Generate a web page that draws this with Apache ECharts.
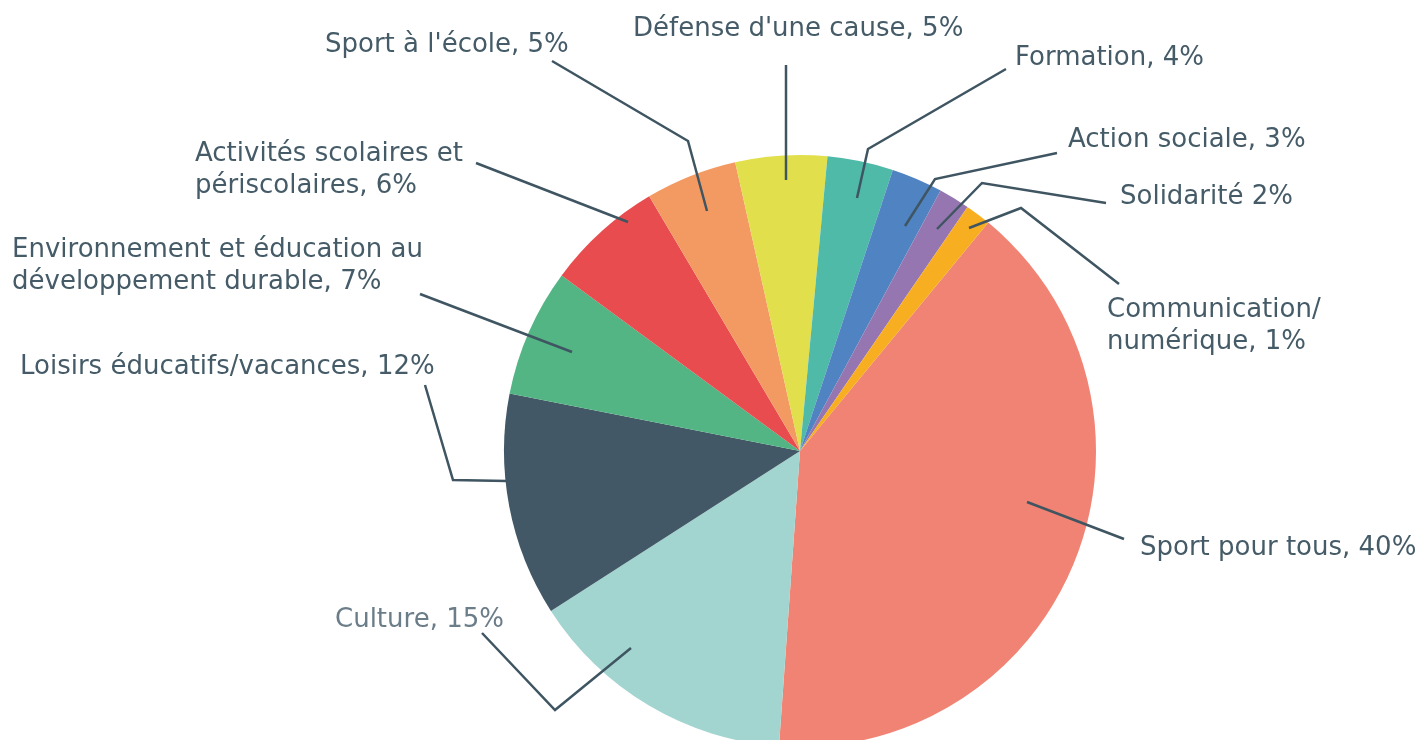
<!DOCTYPE html>
<html>
<head>
<meta charset="utf-8">
<script src="https://cdn.jsdelivr.net/npm/echarts@6/dist/echarts.min.js"></script>
<style>
html,body{margin:0;padding:0;background:#fff;}
#chart{width:1421px;height:740px;}
</style>
</head>
<body>
<div id="chart"></div>
<script>
// ---- data ----
var categories = [
  "Sport pour tous", "Culture", "Loisirs éducatifs/vacances",
  "Environnement et éducation au développement durable",
  "Activités scolaires et périscolaires", "Sport à l'école",
  "Défense d'une cause", "Formation", "Action sociale",
  "Solidarité", "Communication/numérique"
];
var values = [40.2, 14.8, 12.2, 7.0, 6.4, 5.0, 5.0, 3.6, 2.8, 1.7, 1.4];
var labelTexts = [
  "Sport pour tous, 40%", "Culture, 15%", "Loisirs éducatifs/vacances, 12%",
  "Environnement et éducation au\ndéveloppement durable, 7%",
  "Activités scolaires et\npériscolaires, 6%", "Sport à l'école, 5%",
  "Défense d'une cause, 5%", "Formation, 4%", "Action sociale, 3%",
  "Solidarité 2%", "Communication/\nnumérique, 1%"
];
var colors = ["#f08373", "#a3d5d0", "#425866", "#52b583", "#e84c4f", "#f39a62",
              "#e2df4d", "#50baa9", "#5083c1", "#9676b0", "#f8ae21"];

// ---- label layout (annotation positions) ----
var labelPos = [
  [1140, 548], [335, 620], [20, 367], [12, 266], [195, 170], [325, 45],
  [633, 29], [1015, 58], [1068, 140], [1120, 197], [1107, 326]
];
var leaderLines = [
  [[1027, 502], [1124, 539]],
  [[631, 648], [555, 710], [482, 633]],
  [[507, 481], [453, 480], [425, 385]],
  [[572, 352], [420, 294]],
  [[628, 222], [476, 163]],
  [[707, 211], [688, 141], [552, 61]],
  [[786, 180], [786, 65]],
  [[857, 198], [868, 149], [1006, 69]],
  [[905, 226], [935, 179], [1057, 153]],
  [[937, 229], [982, 183], [1106, 203]],
  [[969, 228], [1021, 208], [1119, 284]]
];

var chart = echarts.init(document.getElementById('chart'), null, {renderer: 'canvas'});
var data = categories.map(function (c, i) {
  return {
    name: c,
    value: values[i],
    itemStyle: {color: colors[i]},
    label: {color: i === 1 ? '#6b7d89' : '#455b67'}
  };
});

var lineGraphics = leaderLines.map(function (pts) {
  return {
    type: 'polyline',
    z: 100,
    silent: true,
    shape: {points: pts},
    style: {stroke: '#3f5562', lineWidth: 2.5, fill: null, lineJoin: 'miter'}
  };
});

chart.setOption({
  animation: false,
  graphic: lineGraphics,
  series: [{
    type: 'pie',
    center: [800, 451],
    radius: 296,
    startAngle: 50.5,
    clockwise: true,
    avoidLabelOverlap: false,
    itemStyle: {borderWidth: 0},
    label: {
      show: true,
      position: 'outside',
      fontFamily: 'DejaVu Sans',
      fontSize: 26,
      lineHeight: 32,
      align: 'left',
      formatter: function (p) { return labelTexts[p.dataIndex]; }
    },
    labelLine: {show: false},
    labelLayout: function (p) {
      var i = p.dataIndex;
      return {
        x: labelPos[i][0],
        y: labelPos[i][1],
        align: 'left',
        verticalAlign: 'middle'
      };
    },
    data: data
  }]
});
</script>
</body>
</html>
